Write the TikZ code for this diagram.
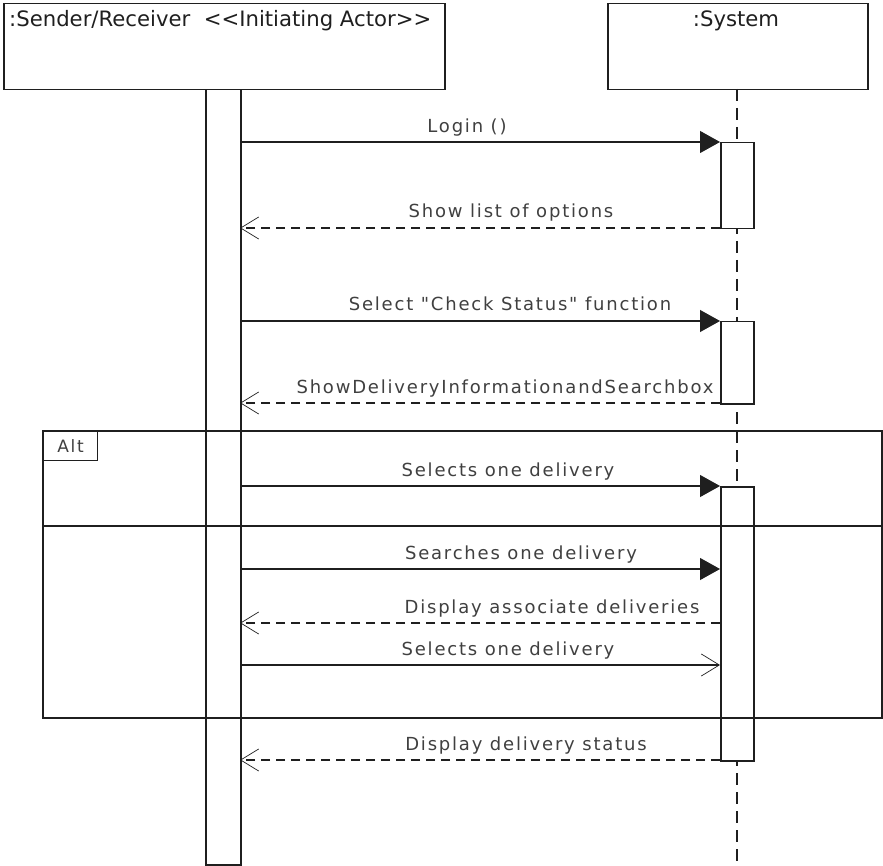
\documentclass[tikz,border=0pt]{standalone}
\usepackage{fontspec}
\setmainfont{DejaVu Sans}
\newfontfamily\msgfont[LetterSpace=10]{DejaVu Sans}
\usetikzlibrary{arrows.meta}
\definecolor{ink}{gray}{0.12}
\definecolor{txt}{gray}{0.25}
\tikzset{
  box/.style={draw=ink, line width=1.5pt, fill=white, inner sep=0pt},
  hdrtext/.style={inner sep=0pt, font=\fontsize{21.2}{23}\selectfont, text=ink},
  msgtext/.style={inner sep=0pt, anchor=base, font=\msgfont\fontsize{18}{20}\selectfont, text=txt},
  call/.style={draw=ink, line width=1.1pt, -{Triangle[length=20pt,width=22pt]}},
  reply/.style={draw=ink, line width=1.1pt, dash pattern=on 9pt off 6pt, -{Straight Barb[length=18pt,width=22pt,line width=0.7pt]}},
  callopen/.style={draw=ink, line width=1.1pt, -{Straight Barb[length=18pt,width=22pt,line width=0.7pt]}},
  lifeline/.style={draw=ink, line width=1.3pt, dash pattern=on 12pt off 7pt},
  frame/.style={draw=ink, line width=1.2pt}
}
\begin{document}
\begin{tikzpicture}[x=1pt,y=-1pt]
\useasboundingbox (0,0) rectangle (883,866);
\fill[white] (0,0) rectangle (883,866);

% header boxes of the two lifelines
\node[box, minimum width=441pt, minimum height=86pt, anchor=north west] (snd) at (3,3) {};
\node[hdrtext, anchor=west] (sndlbl) at (9,21) {:Sender/Receiver\ \ <\kern0pt<Initiating Actor>\kern0pt>};
\node[box, minimum width=260pt, minimum height=86pt, anchor=north west] (sys) at (607,3) {};
\node[hdrtext] (syslbl) at (736,21) {:System};

% lifeline of the system
\coordinate (lltop) at (737,89);
\coordinate (llbot) at (737,866);
\draw[lifeline] (lltop) -- (llbot);

% activation bar of the sender
\node[box, minimum width=35pt, minimum height=775pt, anchor=north west] (bar) at (205,89) {};

% activation boxes on the system
\node[box, minimum width=33pt, minimum height=86pt, anchor=north west] (act1) at (720,142) {};
\node[box, minimum width=33pt, minimum height=82pt, anchor=north west] (act2) at (720,321) {};
\node[box, minimum width=33pt, minimum height=274pt, anchor=north west] (act3) at (720,486) {};

% message end points
\coordinate (s1) at (240,142);  \coordinate (e1) at (720,142);
\coordinate (s2) at (720,228);  \coordinate (e2) at (240,228);
\coordinate (s3) at (240,321);  \coordinate (e3) at (720,321);
\coordinate (s4) at (720,403);  \coordinate (e4) at (240,403);
\coordinate (s5) at (240,486);  \coordinate (e5) at (720,486);
\coordinate (s6) at (240,569);  \coordinate (e6) at (720,569);
\coordinate (s7) at (720,623);  \coordinate (e7) at (240,623);
\coordinate (s8) at (240,665);  \coordinate (e8) at (720,665);
\coordinate (s9) at (720,760);  \coordinate (e9) at (240,760);

\draw[call] (s1) -- (e1);
\node[msgtext] (l1) at (467,133) {Login ()};
\draw[reply] (s2) -- (e2);
\node[msgtext] (l2) at (511,218) {Show list of options};
\draw[call] (s3) -- (e3);
\node[msgtext] (l3) at (510,311) {Select "Check Status" function};
\draw[reply] (s4) -- (e4);
\node[msgtext] (l4) at (505,393) {ShowDeliveryInformationandSearchbox};
\draw[call] (s5) -- (e5);
\node[msgtext] (l5) at (508,476) {Selects one delivery};
\draw[call] (s6) -- (e6);
\node[msgtext] (l6) at (521,559) {Searches one delivery};
\draw[reply] (s7) -- (e7);
\node[msgtext] (l7) at (552,613) {Display associate deliveries};
\draw[callopen] (s8) -- (e8);
\node[msgtext] (l8) at (508,655) {Selects one delivery};
\draw[reply] (s9) -- (e9);
\node[msgtext] (l9) at (526,750) {Display delivery status};

% alt combined fragment
\coordinate (fnw) at (43,431);
\coordinate (fse) at (882,718);
\draw[frame] (fnw) rectangle (fse);
\coordinate (divw) at (43,526);
\coordinate (dive) at (882,526);
\draw[frame] (divw) -- (dive);
\node[box, line width=1.1pt, minimum width=54pt, minimum height=29pt, anchor=north west, font=\msgfont\fontsize{17}{19}\selectfont, text=txt] (alt) at (43,431) {Alt};
\end{tikzpicture}
\end{document}
